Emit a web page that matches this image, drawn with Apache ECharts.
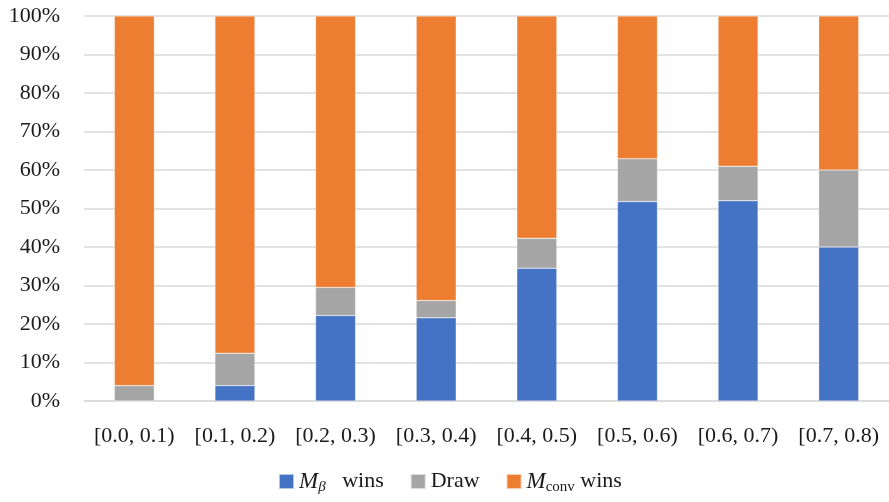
<!DOCTYPE html>
<html>
<head>
<meta charset="utf-8">
<script src="https://cdn.jsdelivr.net/npm/echarts@6/dist/echarts.min.js"></script>
<style>html,body{margin:0;padding:0;background:#fff}#c{width:889px;height:502px}</style>
</head>
<body>
<div id="c"></div>
<script>
const categories = ['[0.0, 0.1)', '[0.1, 0.2)', '[0.2, 0.3)', '[0.3, 0.4)', '[0.4, 0.5)', '[0.5, 0.6)', '[0.6, 0.7)', '[0.7, 0.8)'];
const betaWins = [0, 4.0, 22.2, 21.6, 34.5, 51.8, 52.0, 40.0];
const draws = [4.0, 8.4, 7.3, 4.5, 7.8, 11.1, 9.0, 20.0];
const convWins = [96.0, 87.6, 70.5, 73.9, 57.7, 37.1, 39.0, 40.0];
const yTicks = [0, 10, 20, 30, 40, 50, 60, 70, 80, 90, 100];
const seriesNames = ['Mβ wins', 'Draw', 'Mconv wins'];

const FONT = '"Liberation Serif", serif';
const TXT = '#1a1a1a';
const chart = echarts.init(document.getElementById('c'), null, {renderer: 'canvas'});
const colors = ['#4472C4', '#A5A5A5', '#ED7D31'];
const dataSets = [betaWins, draws, convWins];

chart.setOption({
  animation: false,
  color: colors,
  grid: {left: 84, width: 811, top: 16, height: 385, containLabel: false},
  legend: {
    top: 470,
    left: 278,
    padding: 0,
    itemWidth: 15,
    itemHeight: 15,
    itemGap: 26,
    icon: 'rect',
    textStyle: {
      fontFamily: FONT, fontSize: 22, color: TXT,
      rich: {
        it: {fontFamily: FONT, fontStyle: 'italic', fontSize: 23, color: TXT},
        sub: {fontFamily: FONT, fontStyle: 'italic', fontSize: 15, color: TXT, verticalAlign: 'bottom', padding: [11, 0, 0, 0]},
        subr: {fontFamily: FONT, fontSize: 15, color: TXT, verticalAlign: 'bottom', padding: [11, 0, 0, 0]},
        n: {fontFamily: FONT, fontSize: 22, color: TXT}
      }
    },
    formatter: function (name) {
      if (name === seriesNames[0]) return '{it|M}{sub|β}{n|   wins}';
      if (name === seriesNames[2]) return '{it|M}{subr|conv}{n| wins}';
      return '{n|' + name + '}';
    },
    data: seriesNames
  },
  xAxis: {
    type: 'category',
    data: categories,
    axisLine: {show: true, lineStyle: {color: '#d9d9d9', width: 1.5}},
    axisTick: {show: false},
    axisLabel: {fontFamily: FONT, fontSize: 22, color: TXT, margin: 24, interval: 0}
  },
  yAxis: {
    type: 'value',
    min: 0, max: 100, interval: 10,
    axisLine: {show: false},
    axisTick: {show: false},
    splitLine: {lineStyle: {color: '#d9d9d9', width: 1.5}},
    axisLabel: {fontFamily: FONT, fontSize: 22, color: TXT, margin: 24, formatter: v => (yTicks.includes(v) ? v + '%' : '')}
  },
  series: seriesNames.map((n, i) => ({
    name: n,
    type: 'bar',
    stack: 'total',
    barWidth: 40,
    data: dataSets[i],
    itemStyle: {color: colors[i], borderColor: 'rgba(255,255,255,0.6)', borderWidth: 0.5}
  }))
});
</script>
</body>
</html>
